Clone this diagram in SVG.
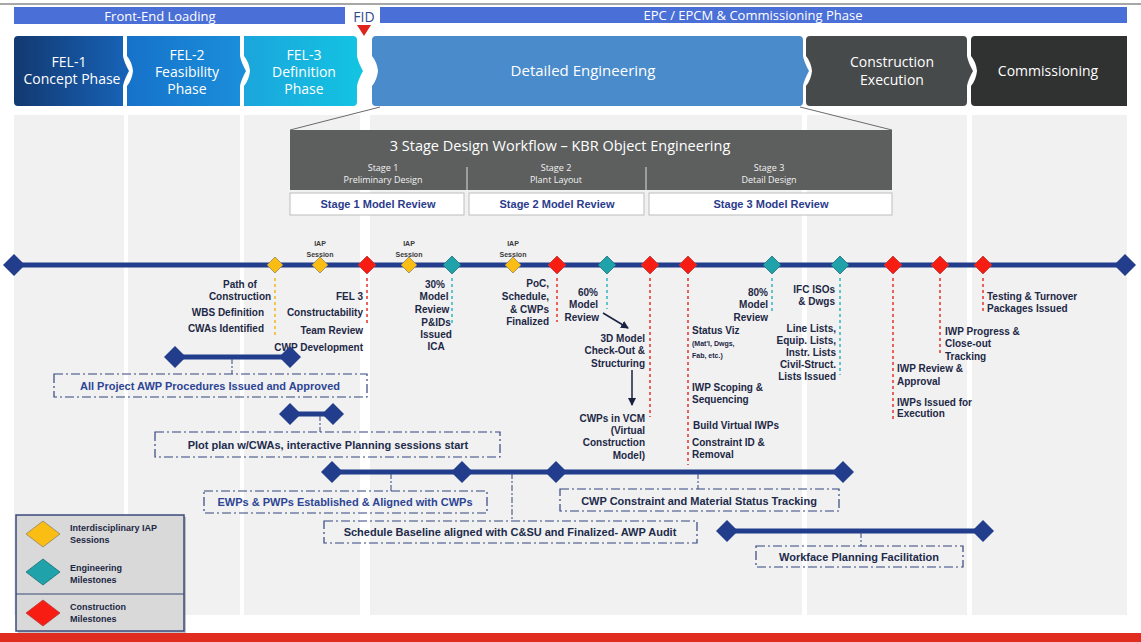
<svg xmlns="http://www.w3.org/2000/svg" xmlns:xlink="http://www.w3.org/1999/xlink" width="1141" height="642" viewBox="0 0 1141 642">
<style>
.hdr{font-family:"Open Sans","Noto Sans",sans-serif;fill:#ffffff;text-anchor:middle}
.lbl{font-family:"Liberation Sans",Arial,sans-serif;font-weight:bold;font-size:10px;fill:#1d2846}
.sm{font-size:7px}
.iap{font-family:"Liberation Sans",Arial,sans-serif;font-weight:bold;font-size:7px;fill:#3a3a3a;text-anchor:middle}
.e{text-anchor:end}
.m{text-anchor:middle}
.col{fill:#f1f1f1}
.bar{stroke:#213d8c;stroke-width:5;fill:none}
.box{fill:none;stroke:#33457f;stroke-width:1.2;stroke-dasharray:9 3 2 3}
.stub{fill:none;stroke:#33457f;stroke-width:1;stroke-dasharray:6 2 2 2}
.bt{font-family:"Liberation Sans",Arial,sans-serif;font-weight:bold;font-size:11px;fill:#222b4c;text-anchor:middle}
.bb{fill:#2d4595}
.dy{stroke:#f3b51a;stroke-width:1.5;stroke-dasharray:3 3;fill:none}
.dr{stroke:#e8302a;stroke-width:1.5;stroke-dasharray:3 3;fill:none}
.dt{stroke:#2fb7bd;stroke-width:1.5;stroke-dasharray:3 3;fill:none}
.yel{fill:#f9bd14;stroke:#8f8465;stroke-width:0.8}
.red{fill:#f71d12;stroke:#b63a3a;stroke-width:0.8}
.tea{fill:#1fa2a9;stroke:#1d6e7c;stroke-width:0.8}
.nav{fill:#213d8c}
.rv{font-family:"Liberation Sans",Arial,sans-serif;font-weight:bold;font-size:11px;fill:#2b3b8c;text-anchor:middle}
.stg{font-family:"Open Sans","Noto Sans",sans-serif;font-size:9px;fill:#f2f2f2;text-anchor:middle}
.lg{font-family:"Liberation Sans",Arial,sans-serif;font-weight:bold;font-size:9px;fill:#1d2846}
.arr{stroke:#1a2040;stroke-width:1.5;fill:none}
</style>
<defs>
<linearGradient id="g1" x1="0" x2="1" y1="0" y2="0"><stop offset="0" stop-color="#133970"/><stop offset="1" stop-color="#1763b8"/></linearGradient>
<linearGradient id="g2" x1="0" x2="1" y1="0" y2="0"><stop offset="0" stop-color="#1672c9"/><stop offset="1" stop-color="#1b8fdb"/></linearGradient>
<linearGradient id="g3" x1="0" x2="1" y1="0" y2="0"><stop offset="0" stop-color="#1ba6dc"/><stop offset="1" stop-color="#13c4e2"/></linearGradient>
<path id="d9" d="M0,-9 L9,0 L0,9 L-9,0Z"/>
<path id="d8" d="M0,-8 L8,0 L0,8 L-8,0Z"/>
<path id="d11" d="M0,-11 L11,0 L0,11 L-11,0Z"/>
<path id="dL" d="M0,-13 L17,0 L0,13 L-17,0Z"/>
<marker id="ah" markerWidth="8" markerHeight="8" refX="7" refY="4" orient="auto" markerUnits="userSpaceOnUse"><path d="M0,0 L8,4 L0,8Z" fill="#1a2040"/></marker>
</defs>

<rect width="1141" height="642" fill="#ffffff"/>
<line x1="0" y1="4" x2="1141" y2="4" stroke="#8a8a8a" stroke-width="1.5"/>

<!-- background columns -->
<g id="columns">
<rect class="col" x="14" y="115" width="110" height="500"/>
<rect class="col" x="128" y="115" width="112" height="500"/>
<rect class="col" x="244" y="115" width="116" height="500"/>
<rect class="col" x="370" y="115" width="432" height="500"/>
<rect class="col" x="807" y="115" width="160" height="500"/>
<rect class="col" x="972" y="115" width="155" height="500"/>
</g>

<!-- header bands -->
<g id="band-fel">
<rect x="14" y="7" width="331" height="17" fill="#4a6fd7"/>
<text class="hdr" x="160" y="21" font-size="13" fill="#e6ecff">Front-End Loading</text>
</g>
<g id="band-epc">
<rect x="380" y="7" width="747" height="16" fill="#4a6fd7"/>
<text class="hdr" x="753" y="20" font-size="13" fill="#e6ecff">EPC / EPCM &amp; Commissioning Phase</text>
</g>
<g id="fid">
<text x="364" y="22" font-family="Open Sans,Noto Sans,sans-serif" font-size="14" fill="#2d4a8f" text-anchor="middle">FID</text>
<path d="M357,25 L371,25 L364,36Z" fill="#e0231c"/>
</g>

<!-- phase chevrons -->
<g id="fel1">
<path d="M18,36 H123 V56 Q124,62 129,71 Q124,80 123,86 V106 H18 Q14,106 14,102 V40 Q14,36 18,36Z" fill="url(#g1)"/>
<text class="hdr" x="69" y="67" font-size="14">FEL-1</text>
<text class="hdr" x="72" y="84" font-size="14">Concept Phase</text>
</g>
<g id="fel2">
<path d="M127,36 H240 V56 Q241,62 246,71 Q241,80 240,86 V106 H127 V86 Q132,80 133,71 Q132,62 127,56Z" fill="url(#g2)"/>
<text class="hdr" x="187" y="60" font-size="14">FEL-2</text>
<text class="hdr" x="187" y="77" font-size="14">Feasibility</text>
<text class="hdr" x="187" y="94" font-size="14">Phase</text>
</g>
<g id="fel3">
<path d="M244,36 H353 Q357,36 357,40 V56 Q358,62 363,71 Q358,80 357,86 V102 Q357,106 353,106 H244 V86 Q249,80 250,71 Q249,62 244,56Z" fill="url(#g3)"/>
<text class="hdr" x="304" y="60" font-size="14">FEL-3</text>
<text class="hdr" x="304" y="77" font-size="14">Definition</text>
<text class="hdr" x="304" y="94" font-size="14">Phase</text>
</g>
<g id="detailed-engineering">
<path d="M376,36 H799 Q803,36 803,40 V56 Q804,62 809,71 Q804,80 803,86 V102 Q803,106 799,106 H376 Q372,106 372,102 V86 Q377,80 378,71 Q377,62 372,56 V40 Q372,36 376,36Z" fill="#4a8bcb"/>
<text class="hdr" x="583" y="76" font-size="15">Detailed Engineering</text>
</g>
<g id="construction-execution">
<path d="M810,36 H963 Q967,36 967,40 V56 Q968,62 973,71 Q968,80 967,86 V102 Q967,106 963,106 H810 Q806,106 806,102 V86 Q811,80 812,71 Q811,62 806,56 V40 Q806,36 810,36Z" fill="#474a4a"/>
<text class="hdr" x="892" y="67" font-size="14">Construction</text>
<text class="hdr" x="892" y="85" font-size="14">Execution</text>
</g>
<g id="commissioning">
<path d="M975,36 H1127 V106 H975 Q971,106 971,102 V86 Q976,80 977,71 Q976,62 971,56 V40 Q971,36 975,36Z" fill="#303232"/>
<text class="hdr" x="1048" y="76" font-size="14">Commissioning</text>
</g>

<!-- 3 stage workflow -->
<g id="workflow">
<line x1="380" y1="107" x2="290" y2="130" stroke="#6a6a6a" stroke-width="1"/>
<line x1="800" y1="107" x2="892" y2="130" stroke="#6a6a6a" stroke-width="1"/>
<rect x="290" y="130" width="602" height="60" fill="#5d5f5f"/>
<text class="hdr" x="560" y="151" font-size="14.5" fill="#f4f4f4">3 Stage Design Workflow – KBR Object Engineering</text>
<line x1="467" y1="167" x2="467" y2="190" stroke="#dddddd" stroke-width="1"/>
<line x1="646" y1="167" x2="646" y2="190" stroke="#dddddd" stroke-width="1"/>
<text class="stg" x="383" y="171">Stage 1</text>
<text class="stg" x="383" y="183">Preliminary Design</text>
<text class="stg" x="556" y="171">Stage 2</text>
<text class="stg" x="556" y="183">Plant Layout</text>
<text class="stg" x="769" y="171">Stage 3</text>
<text class="stg" x="769" y="183">Detail Design</text>
</g>
<g id="stage1-review"><rect x="290" y="193" width="174" height="22" fill="#ffffff" stroke="#bdbdbd"/><text class="rv" x="378" y="208">Stage 1 Model Review</text></g>
<g id="stage2-review"><rect x="469" y="193" width="175" height="22" fill="#ffffff" stroke="#bdbdbd"/><text class="rv" x="557" y="208">Stage 2 Model Review</text></g>
<g id="stage3-review"><rect x="649" y="193" width="243" height="22" fill="#ffffff" stroke="#bdbdbd"/><text class="rv" x="771" y="208">Stage 3 Model Review</text></g>

<!-- connectors -->
<g id="connectors">
<line class="bar" x1="14" y1="265" x2="1125" y2="265"/>
<line class="dy" x1="275" y1="278" x2="275" y2="336"/>
<line class="dr" x1="367" y1="278" x2="367" y2="326"/>
<line class="dt" x1="452" y1="278" x2="452" y2="326"/>
<line class="dr" x1="557" y1="278" x2="557" y2="322"/>
<line class="dt" x1="607" y1="278" x2="607" y2="309"/>
<line class="dr" x1="650" y1="278" x2="650" y2="417"/>
<line class="dr" x1="688" y1="278" x2="688" y2="465"/>
<line class="dt" x1="772" y1="278" x2="772" y2="312"/>
<line class="dt" x1="840" y1="278" x2="840" y2="375"/>
<line class="dr" x1="893" y1="278" x2="893" y2="420"/>
<line class="dr" x1="940" y1="278" x2="940" y2="355"/>
<line class="dr" x1="983" y1="278" x2="983" y2="312"/>
<line class="arr" x1="603" y1="313" x2="628" y2="328" marker-end="url(#ah)"/>
<line class="arr" x1="632" y1="370" x2="632" y2="405" marker-end="url(#ah)"/>
<line class="bar" x1="175" y1="357" x2="290" y2="357"/>
<line class="bar" x1="290" y1="414" x2="333" y2="414"/>
<line class="bar" x1="332" y1="472" x2="843" y2="472"/>
<line class="bar" x1="727" y1="531" x2="983" y2="531"/>
<line class="stub" x1="232" y1="358" x2="232" y2="374"/>
<line class="stub" x1="320" y1="415" x2="320" y2="432"/>
<line class="stub" x1="391" y1="473" x2="391" y2="491"/>
<line class="stub" x1="512" y1="473" x2="512" y2="521"/>
<line class="stub" x1="698" y1="473" x2="698" y2="489"/>
<line class="stub" x1="861" y1="532" x2="861" y2="546"/>
</g>

<!-- timeline milestones -->
<g id="timeline-ends">
<use href="#d11" class="nav" x="14" y="265"/>
<use href="#d11" class="nav" x="1125" y="265"/>
</g>
<g id="m-path-of-construction">
<use href="#d8" class="yel" x="275" y="265"/>
<text class="lbl m" x="240" y="288">Path of</text>
<text class="lbl m" x="240" y="300">Construction</text>
<text class="lbl e" x="264" y="316">WBS Definition</text>
<text class="lbl e" x="264" y="332">CWAs Identified</text>
</g>
<g id="m-iap1"><use href="#d8" class="yel" x="320" y="265"/><text class="iap" x="320" y="246">IAP</text><text class="iap" x="320" y="257">Session</text></g>
<g id="m-fel3">
<use href="#d9" class="red" x="367" y="265"/>
<text class="lbl e" x="363" y="300">FEL 3</text>
<text class="lbl e" x="363" y="316">Constructability</text>
<text class="lbl e" x="363" y="334">Team Review</text>
<text class="lbl e" x="363" y="351">CWP Development</text>
</g>
<g id="m-iap2"><use href="#d8" class="yel" x="409" y="265"/><text class="iap" x="409" y="246">IAP</text><text class="iap" x="409" y="257">Session</text></g>
<g id="m-30">
<use href="#d9" class="tea" x="452" y="265"/>
<text class="lbl m" x="435" y="288">30%</text>
<text class="lbl m" x="434" y="300">Model</text>
<text class="lbl m" x="432" y="313">Review</text>
<text class="lbl m" x="436" y="326">P&amp;IDs</text>
<text class="lbl m" x="436" y="338">Issued</text>
<text class="lbl m" x="436" y="350">ICA</text>
</g>
<g id="m-iap3"><use href="#d8" class="yel" x="513" y="265"/><text class="iap" x="513" y="246">IAP</text><text class="iap" x="513" y="257">Session</text></g>
<g id="m-poc">
<use href="#d9" class="red" x="557" y="265"/>
<text class="lbl e" x="549" y="287">PoC,</text>
<text class="lbl e" x="549" y="300">Schedule,</text>
<text class="lbl e" x="549" y="313">&amp; CWPs</text>
<text class="lbl e" x="549" y="325">Finalized</text>
</g>
<g id="m-60">
<use href="#d9" class="tea" x="607" y="265"/>
<text class="lbl e" x="598" y="296">60%</text>
<text class="lbl e" x="598" y="308">Model</text>
<text class="lbl e" x="599" y="321">Review</text>
</g>
<g id="m-3d">
<use href="#d9" class="red" x="650" y="265"/>
<text class="lbl e" x="645" y="342">3D Model</text>
<text class="lbl e" x="645" y="354">Check-Out &amp;</text>
<text class="lbl e" x="645" y="367">Structuring</text>
<text class="lbl e" x="645" y="422">CWPs in VCM</text>
<text class="lbl e" x="645" y="434">(Virtual</text>
<text class="lbl e" x="645" y="446">Construction</text>
<text class="lbl e" x="645" y="459">Model)</text>
</g>
<g id="m-status">
<use href="#d9" class="red" x="688" y="265"/>
<text class="lbl" x="692" y="334">Status Viz</text>
<text class="lbl sm" x="692" y="346">(Mat'l, Dwgs,</text>
<text class="lbl sm" x="692" y="358">Fab, etc.)</text>
<text class="lbl" x="692" y="391">IWP Scoping &amp;</text>
<text class="lbl" x="692" y="403">Sequencing</text>
<text class="lbl" x="693" y="429">Build Virtual IWPs</text>
<text class="lbl" x="692" y="446">Constraint ID &amp;</text>
<text class="lbl" x="692" y="458">Removal</text>
</g>
<g id="m-80">
<use href="#d9" class="tea" x="772" y="265"/>
<text class="lbl e" x="768" y="296">80%</text>
<text class="lbl e" x="768" y="308">Model</text>
<text class="lbl e" x="768" y="321">Review</text>
</g>
<g id="m-ifc">
<use href="#d9" class="tea" x="840" y="265"/>
<text class="lbl e" x="835" y="293">IFC ISOs</text>
<text class="lbl e" x="835" y="305">&amp; Dwgs</text>
<text class="lbl e" x="836" y="332">Line Lists,</text>
<text class="lbl e" x="836" y="344">Equip. Lists,</text>
<text class="lbl e" x="836" y="356">Instr. Lists</text>
<text class="lbl e" x="836" y="368">Civil-Struct.</text>
<text class="lbl e" x="836" y="380">Lists Issued</text>
</g>
<g id="m-iwp-review">
<use href="#d9" class="red" x="893" y="265"/>
<text class="lbl" x="897" y="372">IWP Review &amp;</text>
<text class="lbl" x="897" y="385">Approval</text>
<text class="lbl" x="897" y="406">IWPs Issued for</text>
<text class="lbl" x="897" y="417">Execution</text>
</g>
<g id="m-iwp-progress">
<use href="#d9" class="red" x="940" y="265"/>
<text class="lbl" x="945" y="335">IWP Progress &amp;</text>
<text class="lbl" x="945" y="347">Close-out</text>
<text class="lbl" x="945" y="360">Tracking</text>
</g>
<g id="m-testing">
<use href="#d9" class="red" x="983" y="265"/>
<text class="lbl" x="987" y="300">Testing &amp; Turnover</text>
<text class="lbl" x="987" y="312">Packages Issued</text>
</g>

<!-- activity bars -->
<g id="bar-awp">
<use href="#d11" class="nav" x="175" y="357"/><use href="#d11" class="nav" x="290" y="357"/>
<rect class="box" x="54" y="374" width="313" height="23"/>
<text class="bt bb" x="210" y="390">All Project AWP Procedures Issued and Approved</text>
</g>
<g id="bar-plot">
<use href="#d11" class="nav" x="290" y="414"/><use href="#d11" class="nav" x="333" y="414"/>
<rect class="box" x="155" y="432" width="345" height="25"/>
<text class="bt" x="328" y="449">Plot plan w/CWAs, interactive Planning sessions start</text>
</g>
<g id="bar-cwp">
<use href="#d11" class="nav" x="332" y="472"/><use href="#d11" class="nav" x="462" y="472"/>
<use href="#d11" class="nav" x="556" y="472"/><use href="#d11" class="nav" x="843" y="472"/>
</g>
<g id="box-ewp">
<rect class="box" x="204" y="491" width="283" height="22"/>
<text class="bt bb" x="345" y="506">EWPs &amp; PWPs Established &amp; Aligned with CWPs</text>
</g>
<g id="box-schedule">
<rect class="box" x="324" y="521" width="373" height="22"/>
<text class="bt" x="510" y="536">Schedule Baseline aligned with C&amp;SU and Finalized- AWP Audit</text>
</g>
<g id="box-constraint">
<rect class="box" x="560" y="489" width="279" height="22"/>
<text class="bt" x="699" y="505">CWP Constraint and Material Status Tracking</text>
</g>
<g id="bar-workface">
<use href="#d11" class="nav" x="727" y="531"/><use href="#d11" class="nav" x="983" y="531"/>
<rect class="box" x="756" y="546" width="207" height="21"/>
<text class="bt" x="859" y="561">Workface Planning Facilitation</text>
</g>

<!-- legend -->
<g id="legend">
<rect x="18" y="517" width="168" height="116" fill="#8a8a8a" opacity="0.5"/>
<rect x="16" y="515" width="168" height="116" fill="#d9d9d9" stroke="#3a4a7a" stroke-width="1.5"/>
<line x1="16" y1="594" x2="184" y2="594" stroke="#3a4a7a" stroke-width="1.2"/>
<use href="#dL" class="yel" x="43" y="534"/>
<use href="#dL" class="tea" x="43" y="572"/>
<use href="#dL" class="red" x="43" y="613"/>
<text class="lg" x="70" y="531">Interdisciplinary IAP</text>
<text class="lg" x="70" y="543">Sessions</text>
<text class="lg" x="70" y="571">Engineering</text>
<text class="lg" x="70" y="583">Milestones</text>
<text class="lg" x="70" y="610">Construction</text>
<text class="lg" x="70" y="622">Milestones</text>
</g>

<rect x="0" y="633" width="1141" height="9" fill="#e02d1f"/>
</svg>
